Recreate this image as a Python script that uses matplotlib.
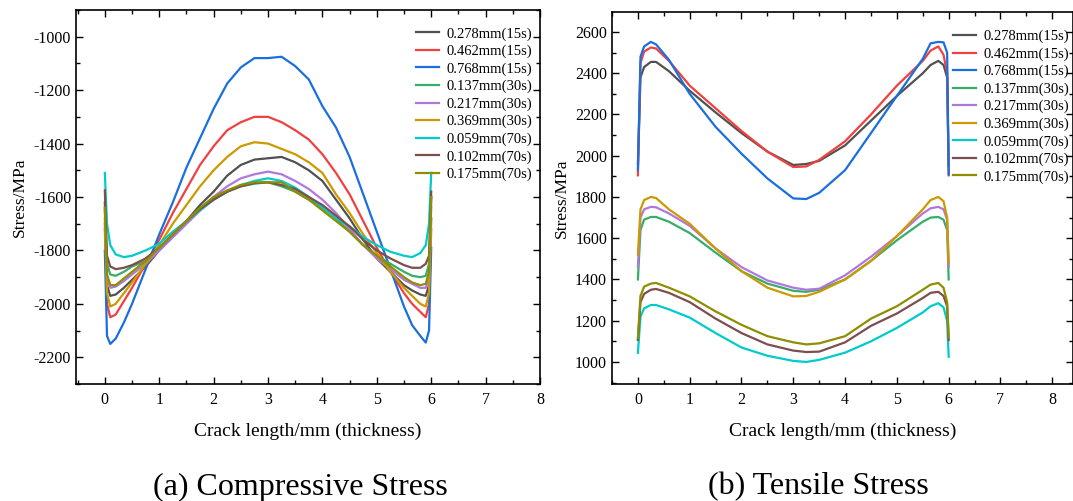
import matplotlib
matplotlib.use("Agg")
import matplotlib.pyplot as plt
from matplotlib.ticker import MultipleLocator

plt.rcParams['font.family'] = ['Liberation Serif', 'DejaVu Serif']
plt.rcParams['axes.unicode_minus'] = False

labels = ["0.278mm(15s)", "0.462mm(15s)", "0.768mm(15s)", "0.137mm(30s)", "0.217mm(30s)",
          "0.369mm(30s)", "0.059mm(70s)", "0.102mm(70s)", "0.175mm(70s)"]
colors = ["#515151", "#F14040", "#1A6FDF", "#37AD6B", "#B177DE", "#CC9900", "#00CBCC", "#7D4E4E", "#8E8E00"]

# ---- (a) Compressive stress ----
xc = [0.0, 0.04, 0.1, 0.2, 0.35, 0.5, 0.75, 1.0, 1.25, 1.5, 1.75, 2.0, 2.25, 2.5, 2.75, 3.0,
      3.25, 3.5, 3.75, 4.0, 4.25, 4.5, 4.75, 5.0, 5.25, 5.5, 5.65, 5.8, 5.9, 5.96, 6.0]
c_0278 = [-1620, -1930, -1970, -1965, -1940, -1910, -1860, -1800, -1740, -1690, -1630, -1580, -1520, -1480, -1460, -1455,
          -1450, -1470, -1500, -1540, -1610, -1680, -1760, -1830, -1880, -1930, -1950, -1965, -1970, -1930, -1600]
c_0462 = [-1720, -2000, -2050, -2040, -1990, -1940, -1850, -1760, -1660, -1570, -1480, -1410, -1350, -1320, -1300, -1300,
          -1320, -1350, -1385, -1440, -1510, -1590, -1690, -1790, -1880, -1960, -2000, -2030, -2050, -2000, -1720]
c_0768 = [-1800, -2120, -2150, -2130, -2070, -2000, -1870, -1740, -1620, -1490, -1380, -1270, -1175, -1115, -1080, -1080,
          -1075, -1110, -1160, -1260, -1340, -1450, -1590, -1730, -1870, -2010, -2080, -2120, -2145, -2100, -1790]
c_0137 = [-1650, -1850, -1890, -1895, -1880, -1860, -1840, -1800, -1750, -1700, -1650, -1610, -1580, -1560, -1550, -1545,
          -1560, -1580, -1610, -1640, -1680, -1730, -1780, -1820, -1850, -1880, -1895, -1900, -1895, -1850, -1640]
c_0217 = [-1700, -1900, -1940, -1935, -1915, -1890, -1850, -1800, -1750, -1700, -1650, -1600, -1560, -1530, -1515, -1505,
          -1515, -1540, -1570, -1610, -1660, -1720, -1780, -1830, -1870, -1910, -1925, -1940, -1940, -1900, -1680]
c_0369 = [-1680, -1960, -2010, -2000, -1960, -1920, -1850, -1780, -1700, -1630, -1560, -1500, -1450, -1410, -1395, -1400,
          -1420, -1440, -1470, -1510, -1590, -1660, -1740, -1810, -1880, -1940, -1970, -2000, -2010, -1960, -1680]
c_0059 = [-1510, -1700, -1780, -1815, -1825, -1820, -1800, -1775, -1730, -1690, -1650, -1610, -1580, -1555, -1540, -1530,
          -1540, -1565, -1600, -1640, -1680, -1710, -1750, -1780, -1805, -1820, -1825, -1810, -1780, -1700, -1510]
c_0102 = [-1575, -1820, -1860, -1870, -1865, -1855, -1830, -1790, -1740, -1690, -1645, -1610, -1580, -1560, -1548, -1545,
          -1555, -1570, -1600, -1630, -1670, -1710, -1760, -1800, -1830, -1855, -1865, -1865, -1850, -1820, -1580]
c_0175 = [-1640, -1890, -1930, -1930, -1905, -1880, -1840, -1790, -1740, -1690, -1640, -1600, -1575, -1555, -1545, -1545,
          -1545, -1580, -1610, -1650, -1690, -1730, -1780, -1820, -1860, -1900, -1920, -1930, -1925, -1880, -1600]
comp = [c_0278, c_0462, c_0768, c_0137, c_0217, c_0369, c_0059, c_0102, c_0175]

# ---- (b) Tensile stress ----
xt = [0.0, 0.05, 0.12, 0.25, 0.35, 0.6, 1.0, 1.5, 2.0, 2.5, 3.0, 3.25, 3.5, 4.0, 4.5, 5.0,
      5.5, 5.65, 5.8, 5.9, 5.97, 6.0]
t_0278 = [1960, 2380, 2430, 2455, 2455, 2410, 2315, 2210, 2110, 2020, 1955, 1960, 1975, 2050, 2170, 2290,
          2400, 2440, 2460, 2440, 2380, 1950]
t_0462 = [1905, 2450, 2505, 2525, 2520, 2460, 2340, 2230, 2120, 2020, 1945, 1948, 1980, 2070, 2200, 2340,
          2460, 2510, 2530, 2490, 2400, 1905]
t_0768 = [1931, 2480, 2530, 2552, 2540, 2465, 2300, 2140, 2010, 1890, 1793, 1790, 1820, 1930, 2110, 2290,
          2470, 2545, 2552, 2550, 2500, 1910]
t_0137 = [1400, 1640, 1690, 1703, 1703, 1680, 1625, 1530, 1440, 1380, 1345, 1340, 1350, 1400, 1490, 1590,
          1680, 1700, 1703, 1690, 1640, 1400]
t_0217 = [1460, 1700, 1740, 1752, 1750, 1720, 1660, 1550, 1460, 1395, 1360, 1350, 1355, 1420, 1510, 1610,
          1720, 1745, 1752, 1740, 1690, 1460]
t_0369 = [1520, 1740, 1785, 1800, 1795, 1740, 1670, 1550, 1440, 1360, 1318, 1320, 1340, 1400, 1490, 1610,
          1740, 1785, 1800, 1780, 1700, 1480]
t_0059 = [1044, 1220, 1260, 1276, 1276, 1255, 1215, 1140, 1070, 1030, 1005, 1000, 1010, 1045, 1100, 1165,
          1240, 1270, 1285, 1265, 1200, 1025]
t_0102 = [1107, 1290, 1330, 1350, 1354, 1335, 1290, 1210, 1140, 1085, 1055, 1048, 1050, 1095, 1175, 1235,
          1310, 1335, 1340, 1320, 1270, 1107]
t_0175 = [1116, 1320, 1365, 1380, 1383, 1360, 1318, 1245, 1180, 1125, 1095, 1085, 1090, 1125, 1210, 1270,
          1350, 1375, 1383, 1360, 1290, 1120]
tens = [t_0278, t_0462, t_0768, t_0137, t_0217, t_0369, t_0059, t_0102, t_0175]

W, H = 1073, 501
fig = plt.figure(figsize=(W / 100, H / 100), dpi=100)
ax1 = fig.add_axes([76 / W, 1 - 384 / H, 464 / W, 374 / H])
ax2 = fig.add_axes([612 / W, 1 - 384 / H, 461 / W, 372 / H])


def style(ax):
    ax.tick_params(which='both', direction='in', top=True, right=True, labelsize=11.5, width=1.0)
    ax.tick_params(which='major', length=5)
    ax.tick_params(which='minor', length=3)
    ax.tick_params(axis='x', which='major', pad=6)
    for s in ax.spines.values():
        s.set_linewidth(1.2)
    ax.xaxis.set_major_locator(MultipleLocator(1))
    ax.xaxis.set_minor_locator(MultipleLocator(0.5))
    ax.yaxis.set_major_locator(MultipleLocator(200))
    ax.yaxis.set_minor_locator(MultipleLocator(100))
    ax.set_xlabel("Crack length/mm (thickness)", fontsize=14, labelpad=10)
    ax.set_ylabel("Stress/MPa", fontsize=12.5, labelpad=4)


leg_kw = dict(loc='upper left', frameon=False, fontsize=10.5, handlelength=1.6,
              handletextpad=0.5, labelspacing=0.28, borderaxespad=0)

for ys, lab, col in zip(comp, labels, colors):
    ax1.plot(xc, ys, color=col, lw=1.6, label=lab)
ax1.set_xlim(-0.53, 8)
ax1.set_ylim(-2300, -900)
style(ax1)
ax1.legend(bbox_to_anchor=(0.72, 0.97), **leg_kw)

for ys, lab, col in zip(tens, labels, colors):
    ax2.plot(xt, ys, color=col, lw=1.6, label=lab)
ax2.set_xlim(-0.5, 8.4)
ax2.set_ylim(893, 2697)
style(ax2)
ax2.legend(bbox_to_anchor=(0.727, 0.968), **leg_kw)

fig.text(300 / W, 1 - 487 / H, "(a) Compressive Stress", ha='center', va='center', fontsize=23)
fig.text(818 / W, 1 - 487 / H, "(b) Tensile Stress", ha='center', va='center', fontsize=23)

fig.savefig("out.png", dpi=100)
